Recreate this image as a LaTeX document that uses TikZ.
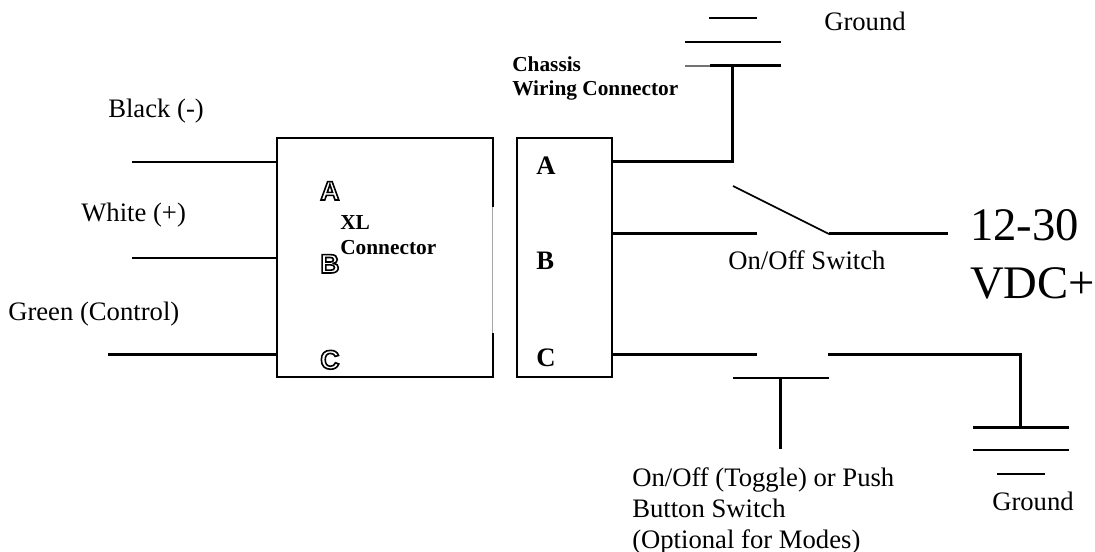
\documentclass[tikz,border=0pt]{standalone}
\usepackage{fontspec}
\setmainfont{Liberation Serif}
\newfontfamily\outfont{Liberation Sans}
\newcommand{\outl}[1]{\special{pdf:code q 2 Tr 1.2 w 0 0 0 RG 1 1 1 rg}\outfont\bfseries\fontsize{20}{20}\selectfont #1\special{pdf:code Q}}
\tikzset{
  wire/.style={line width=2.25pt,draw=black},
  thin wire/.style={line width=1.5pt,draw=black},
  box/.style={line width=1.5pt,draw=black},
  lab/.style={inner sep=0pt,anchor=base west,font=\fontsize{20}{22}\selectfont,align=left},
  blab/.style={inner sep=0pt,anchor=base west,font=\fontsize{16}{18}\selectfont\bfseries},
  pin/.style={inner sep=0pt,anchor=base west,font=\fontsize{20}{22}\selectfont\bfseries},
  big/.style={inner sep=0pt,anchor=base west,font=\fontsize{35}{35}\selectfont},
}
\begin{document}
\begin{tikzpicture}[x=0.75pt,y=-0.75pt]
\useasboundingbox (0,0) rectangle (1095,552);
% boxes
\coordinate (xlNW) at (276.5,138); \coordinate (xlSE) at (492.5,377);
\coordinate (chNW) at (517,138); \coordinate (chSE) at (612,377);
\draw[box] (xlNW) rectangle (xlSE);
\draw[box] (chNW) rectangle (chSE);
% fainter stretch of the XL box's right edge
\coordinate (fadeT) at (492.5,207); \coordinate (fadeB) at (492.5,333);
\draw[line width=1.5pt,white] (fadeT) -- (fadeB);
\draw[line width=0.6pt,black!35] (fadeT) -- (fadeB);
% left wires
\coordinate (blk) at (132,162); \coordinate (blkE) at (276,162);
\coordinate (wht) at (132,258); \coordinate (whtE) at (276,258);
\coordinate (grn) at (108,354); \coordinate (grnE) at (276,354);
\draw[thin wire] (blk) -- (blkE);
\draw[thin wire] (wht) -- (whtE);
\draw[wire] (grn) -- (grnE);
% wire A to top ground
\coordinate (aE) at (612,162); \coordinate (aK) at (732,162); \coordinate (g1) at (732,66);
\draw[wire,line join=miter] (aE) -- (aK) -- (g1);
\coordinate (g1a) at (685,66); \coordinate (g1m) at (710,66); \coordinate (g1b) at (781,66);
\coordinate (g2a) at (685,42); \coordinate (g2b) at (781,42);
\coordinate (g3a) at (709,18); \coordinate (g3b) at (757,18);
\draw[line width=2pt,black!55] (g1a) -- (g1m);
\draw[wire] (g1m) -- (g1b);
\draw[thin wire] (g2a) -- (g2b);
\draw[thin wire] (g3a) -- (g3b);
% wire B and switch
\coordinate (bE) at (612,234); \coordinate (bS) at (757,234);
\draw[wire] (bE) -- (bS);
\coordinate (sw1) at (733,186); \coordinate (sw2) at (829,234); \coordinate (sw3) at (948,234);
\draw[line width=1.3pt] (sw1) -- (sw2);
\draw[wire] (sw2) -- (sw3);
% wire C and push button
\coordinate (cE) at (612,354); \coordinate (cS) at (757,354);
\coordinate (cR) at (828,354); \coordinate (cK) at (1020.5,354); \coordinate (g4) at (1020.5,427);
\draw[wire] (cE) -- (cS);
\draw[wire] (cR) -- (cK) -- (g4);
\coordinate (pb1) at (733,378); \coordinate (pb2) at (829,378);
\coordinate (pbM) at (780.5,378); \coordinate (pbB) at (780.5,449);
\draw[thin wire] (pb1) -- (pb2);
\draw[wire] (pbM) -- (pbB);
\coordinate (g4a) at (973,427); \coordinate (g4b) at (1069,427);
\coordinate (g5a) at (973,450); \coordinate (g5b) at (1069,450);
\coordinate (g6a) at (997,474); \coordinate (g6b) at (1045,474);
\draw[wire] (g4a) -- (g4b);
\draw[thin wire] (g5a) -- (g5b);
\draw[thin wire] (g6a) -- (g6b);
% labels
\node[lab] (tBlack) at (108,118) {Black (-)};
\node[lab] (tWhite) at (81,222) {White (+)};
\node[lab] (tGreen) at (8,320) {Green (Control)};
\node[lab] (tGround1) at (824,31) {Ground};
\node[lab] (tGround2) at (992,510) {Ground};
\node[lab] (tSwitch) at (728,270) {On/Off Switch};
\node[lab] (tToggleA) at (632,486) {On/Off (Toggle) or Push};
\node[lab] (tToggleB) at (632,517) {Button Switch};
\node[lab] (tToggleC) at (632,548) {(Optional for Modes)};
\node[blab] (tCh1) at (512,72) {Chassis};
\node[blab] (tCh2) at (512,96) {Wiring Connector};
\node[blab] (tXL) at (340,229) {XL};
\node[blab] (tCo) at (340,254) {Connector};
\node[pin] (pA) at (536,175) {A};
\node[pin] (pB) at (536,270) {B};
\node[pin] (pC) at (536,366) {C};
\node[big] (tV1) at (970,241) {12-30};
\node[big] (tV2) at (970,298) {VDC+};
\node[inner sep=0pt,anchor=base west] (oA) at (320,200) {\outl{A}};
\node[inner sep=0pt,anchor=base west] (oB) at (320,273) {\outl{B}};
\node[inner sep=0pt,anchor=base west] (oC) at (320,369) {\outl{C}};
\end{tikzpicture}
\end{document}
